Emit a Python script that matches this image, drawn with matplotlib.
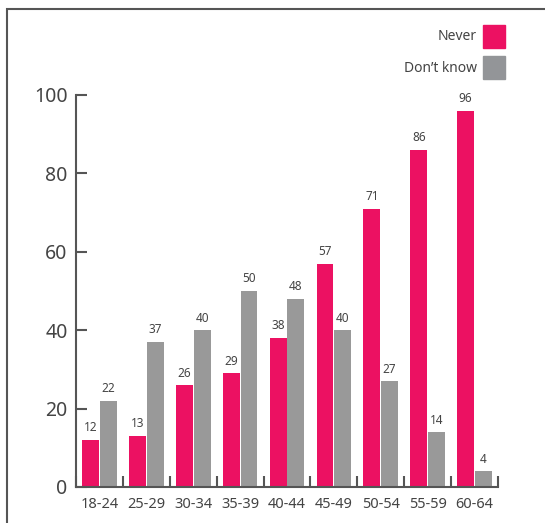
import matplotlib.pyplot as plt
from matplotlib.patches import Rectangle
import numpy as np

plt.rcParams['font.family'] = ['Noto Sans', 'DejaVu Sans']

groups = ['18-24', '25-29', '30-34', '35-39', '40-44', '45-49', '50-54', '55-59', '60-64']
never = [12, 13, 26, 29, 38, 57, 71, 86, 96]
dont_know = [22, 37, 40, 50, 48, 40, 27, 14, 4]

pink = '#ec1162'
grey = '#999999'
txt = '#444444'
axc = '#555555'

fig = plt.figure(figsize=(5.45, 5.23), dpi=100)
ax = fig.add_axes([76 / 545, 1 - 487 / 523, 422 / 545, 392 / 523])

x = np.arange(len(groups))
w = 0.36
b1 = ax.bar(x - w / 2 - 0.01, never, w, color=pink)
b2 = ax.bar(x + w / 2 + 0.01, dont_know, w, color=grey)

for bars, vals in ((b1, never), (b2, dont_know)):
    for r, v in zip(bars, vals):
        ax.annotate(str(v), (r.get_x() + r.get_width() / 2, v), xytext=(0, 4),
                    textcoords='offset points', ha='center', va='bottom',
                    fontsize=8.5, color=txt)

ax.set_xlim(-0.5, len(groups) - 0.5)
ax.set_ylim(0, 100)
ax.set_yticks(range(0, 101, 20))
ax.set_xticks(x)
ax.set_xticklabels(groups)
ax.set_xticks(np.arange(-0.5, len(groups), 1), minor=True)

for s in ('top', 'right'):
    ax.spines[s].set_visible(False)
for s in ('left', 'bottom'):
    ax.spines[s].set_color(axc)
    ax.spines[s].set_linewidth(1.5)

ax.tick_params(axis='y', direction='in', length=8, width=1.5, color=axc,
               labelsize=14, labelcolor=txt, pad=6)
ax.tick_params(axis='x', which='major', length=0, labelsize=10.5,
               labelcolor=txt, pad=7)
ax.tick_params(axis='x', which='minor', direction='in', length=8, width=1.5,
               color=axc)

# legend boxes on the right
fig.text(477 / 545, 1 - 37 / 523, 'Never', ha='right', va='center',
         fontsize=10, color=txt)
fig.text(477 / 545, 1 - 68 / 523, 'Don\u2019t know', ha='right', va='center',
         fontsize=10, color=txt)
fig.patches.append(Rectangle((483 / 545, 1 - 48 / 523), 22 / 545, 23 / 523,
                             transform=fig.transFigure, color=pink))
fig.patches.append(Rectangle((483 / 545, 1 - 79 / 523), 22 / 545, 23 / 523,
                             transform=fig.transFigure, color='#939598'))

# outer frame
fig.patches.append(Rectangle((7 / 545, -0.05), 1.1, 1 - 9 / 523 + 0.05,
                             transform=fig.transFigure, fill=False,
                             edgecolor=axc, linewidth=1.5))

fig.savefig('out.png', dpi=100)
